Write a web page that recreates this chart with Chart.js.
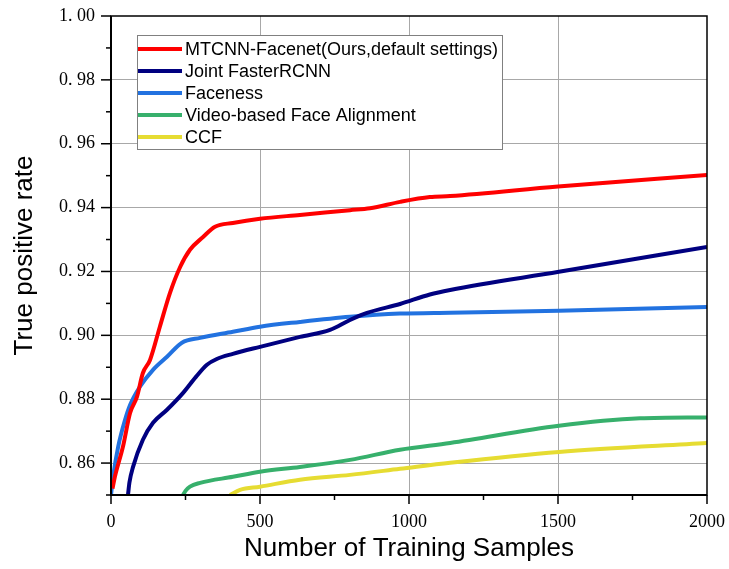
<!DOCTYPE html>
<html>
<head>
<meta charset="utf-8">
<script src="https://cdn.jsdelivr.net/npm/chart.js@4/dist/chart.umd.min.js"></script>
<style>
  html, body { margin: 0; padding: 0; background: #fff; }
  canvas { display: block; }
</style>
</head>
<body>
<canvas id="tprChart" width="729" height="569"></canvas>
<script>
// series
const seriesNames = [
  "MTCNN-Facenet(Ours,default settings)",
  "Joint FasterRCNN",
  "Faceness",
  "Video-based Face Alignment",
  "CCF"
];
const seriesColors = ["#ff0000", "#000080", "#2272e0", "#37b06c", "#e6dc32"];

const mtcnnX = [5, 13, 40, 64, 87, 107, 131, 164, 198, 232, 265, 309, 349, 409, 500, 634, 802, 869, 970, 1070, 1138, 1500, 2000];
const mtcnnY = [0.852, 0.8557, 0.8651, 0.8757, 0.8807, 0.8882, 0.8923, 0.9027, 0.9133, 0.9214, 0.9268, 0.9308, 0.934, 0.9352, 0.9365, 0.9377, 0.9392, 0.9398, 0.9418, 0.9433, 0.9436, 0.9466, 0.9502];

const jointX = [57, 62, 74, 107, 141, 188, 242, 285, 322, 355, 409, 500, 634, 735, 802, 859, 970, 1070, 1138, 1503, 2000];
const jointY = [0.85, 0.854, 0.8588, 0.8673, 0.8726, 0.8767, 0.882, 0.887, 0.8908, 0.8926, 0.8942, 0.8964, 0.8995, 0.9017, 0.9048, 0.907, 0.9098, 0.9128, 0.9142, 0.9199, 0.9277];

const facenessX = [0, 7, 24, 47, 64, 97, 141, 188, 238, 299, 409, 500, 634, 802, 970, 1138, 1503, 2000];
const facenessY = [0.85, 0.8557, 0.8651, 0.8735, 0.8782, 0.8839, 0.8892, 0.8933, 0.8977, 0.8992, 0.9011, 0.9027, 0.9042, 0.9058, 0.9068, 0.9071, 0.9077, 0.9089];

const videoX = [242, 250, 265, 299, 409, 500, 634, 802, 970, 1138, 1503, 1775, 2000];
const videoY = [0.85, 0.8513, 0.8526, 0.8538, 0.8557, 0.8573, 0.8588, 0.861, 0.8642, 0.8663, 0.8717, 0.874, 0.8743];

const ccfX = [399, 433, 500, 634, 802, 970, 1138, 1503, 2000];
const ccfY = [0.85, 0.8516, 0.8526, 0.8548, 0.8563, 0.8582, 0.8601, 0.8635, 0.8663];

const xTickLabels = [0, 500, 1000, 1500, 2000];
const yTickLabels = [0.86, 0.88, 0.90, 0.92, 0.94, 0.96, 0.98, 1.00];

const allX = [mtcnnX, jointX, facenessX, videoX, ccfX];
const allY = [mtcnnY, jointY, facenessY, videoY, ccfY];

function toPoints(xs, ys) {
  return xs.map((x, i) => ({ x: x, y: ys[i] }));
}

const isMajorY = v => Math.round(v * 100) % 2 === 0;
const gridGray = "#a8a8a8";
const clear = "rgba(0,0,0,0)";

// ticks, frame and legend box drawn on top of the chart
const frameAndLegend = {
  id: "frameAndLegend",
  afterDraw(chart) {
    const { ctx, chartArea: a, scales } = chart;
    const xs = scales.x, ys = scales.y;
    ctx.save();
    ctx.strokeStyle = "#000";
    ctx.lineWidth = 1.5;
    xs.ticks.forEach(t => {
      const px = xs.getPixelForValue(t.value);
      const len = t.value % 500 === 0 ? 9 : 5;
      ctx.beginPath();
      ctx.moveTo(px, a.bottom);
      ctx.lineTo(px, a.bottom + len);
      ctx.stroke();
    });
    ys.ticks.forEach(t => {
      const py = ys.getPixelForValue(t.value);
      const len = isMajorY(t.value) ? 10 : 5;
      ctx.beginPath();
      ctx.moveTo(a.left, py);
      ctx.lineTo(a.left - len, py);
      ctx.stroke();
    });
    ctx.strokeRect(a.left, a.top, a.right - a.left, a.bottom - a.top);
    ctx.lineWidth = 2;
    ctx.beginPath();
    ctx.moveTo(a.left, a.top);
    ctx.lineTo(a.left, a.bottom);
    ctx.lineTo(a.right, a.bottom);
    ctx.stroke();

    // legend
    const bx = 137.5, by = 35.5, bw = 365, bh = 114;
    ctx.fillStyle = "#fff";
    ctx.fillRect(bx, by, bw, bh);
    ctx.lineWidth = 1;
    ctx.strokeStyle = "#808080";
    ctx.strokeRect(bx, by, bw, bh);
    ctx.font = "18px 'Liberation Sans', Arial, sans-serif";
    ctx.textBaseline = "middle";
    ctx.textAlign = "left";
    chart.data.datasets.forEach((ds, i) => {
      const ry = 49 + i * 22;
      ctx.strokeStyle = ds.borderColor;
      ctx.lineWidth = 4;
      ctx.beginPath();
      ctx.moveTo(138, ry);
      ctx.lineTo(182, ry);
      ctx.stroke();
      ctx.fillStyle = "#000";
      ctx.fillText(ds.label, 185, ry + 1);
    });
    ctx.restore();
  }
};

new Chart(document.getElementById("tprChart"), {
  type: "line",
  data: {
    datasets: seriesNames.map((name, i) => ({
      label: name,
      data: toPoints(allX[i], allY[i]),
      borderColor: seriesColors[i],
      backgroundColor: seriesColors[i],
      borderWidth: 4,
      pointRadius: 0,
      fill: false,
      cubicInterpolationMode: "monotone",
    })),
  },
  options: {
    responsive: false,
    animation: false,
    layout: { padding: { top: 16, right: 22, left: 0, bottom: 0 } },
    plugins: { legend: { display: false }, tooltip: { enabled: false } },
    scales: {
      x: {
        type: "linear",
        min: 0,
        max: 2000,
        afterFit(scale) { scale.height = 74; },
        border: { display: false },
        grid: {
          tickLength: 16,
          tickColor: clear,
          color: c => (c.tick && xTickLabels.includes(c.tick.value) && c.tick.value > 0 && c.tick.value < 2000) ? gridGray : clear,
        },
        ticks: {
          stepSize: 250,
          autoSkip: false,
          maxRotation: 0,
          padding: 0,
          color: "#000",
          font: { family: "'Liberation Serif', 'Times New Roman', serif", size: 18 },
          callback: v => xTickLabels.includes(v) ? String(v) : "",
        },
        title: {
          display: true,
          text: "Number of Training Samples",
          color: "#000",
          font: { family: "'Liberation Sans', Arial, sans-serif", size: 26 },
          padding: { top: 0, bottom: 5 },
        },
      },
      y: {
        min: 0.85,
        max: 1.0,
        afterFit(scale) { scale.width = 111; },
        border: { display: false },
        grid: {
          tickLength: 16,
          tickColor: clear,
          color: c => (c.tick && isMajorY(c.tick.value) && c.tick.value > 0.855 && c.tick.value < 0.995) ? gridGray : clear,
        },
        ticks: {
          stepSize: 0.01,
          autoSkip: false,
          padding: 0,
          color: "#000",
          font: { family: "'Liberation Serif', 'Times New Roman', serif", size: 18 },
          callback: v => {
            const hit = yTickLabels.find(t => Math.abs(t - v) < 1e-6);
            return hit !== undefined ? hit.toFixed(2).replace(".", ". ") : "";
          },
        },
        title: {
          display: true,
          text: "True positive rate",
          color: "#000",
          font: { family: "'Liberation Sans', Arial, sans-serif", size: 26 },
          padding: { top: 9, bottom: 0 },
        },
      },
    },
  },
  plugins: [frameAndLegend],
});
</script>
</body>
</html>
